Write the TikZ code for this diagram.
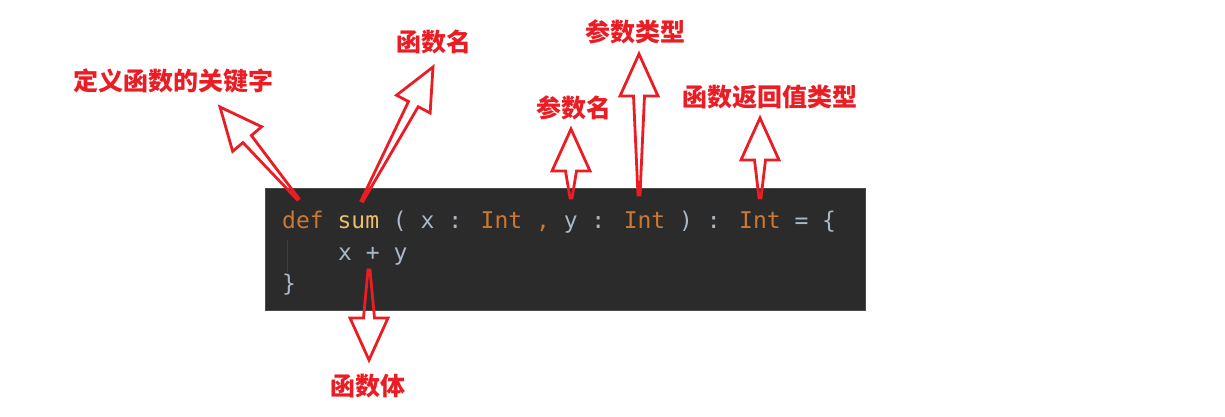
\documentclass[tikz,border=0pt]{standalone}
\usepackage{fontspec}
\usetikzlibrary{calc}
\newfontfamily\cjk{Noto Sans CJK SC}
\newfontfamily\codefont{DejaVu Sans Mono}
\definecolor{arrowred}{HTML}{EA1C24}
\definecolor{codebg}{HTML}{2B2B2B}
\definecolor{codeborder}{HTML}{4A4A4A}
\definecolor{kw}{HTML}{CC7832}
\definecolor{fn}{HTML}{E8BF6A}
\definecolor{plain}{HTML}{A9B7C6}
\definecolor{guide}{HTML}{3C3F41}
\tikzset{
  label/.style={font=\cjk\bfseries\fontsize{25pt}{28pt}\selectfont, text=arrowred, inner sep=0pt},
  codeline/.style={font=\codefont\fontsize{23pt}{28pt}\selectfont, text=plain, inner sep=0pt, anchor=base west},
  harrow/.style={draw=arrowred, line width=2.8pt, line join=miter, fill=none},
}
\newcommand\hollowarrow[2]{%
  \path ($(#2)!42pt!(#1)$) coordinate (hb);
  \draw[harrow] (#2) -- ($(hb)!19pt!90:(#2)$) -- ($(hb)!5.5pt!90:(#2)$) -- ($(#1)!1pt!90:(#2)$)
    -- ($(#1)!1pt!-90:(#2)$) -- ($(hb)!5.5pt!-90:(#2)$) -- ($(hb)!19pt!-90:(#2)$) -- cycle;
}
\begin{document}
\begin{tikzpicture}[x=1pt,y=-1pt]
\useasboundingbox (0,0) rectangle (1225,416);
% code box
\node[draw=codeborder, fill=codebg, line width=0.8pt, minimum width=600pt, minimum height=122pt, inner sep=0pt, anchor=north west] (box) at (265,188) {};
\draw[guide, line width=1pt] (287,240) -- (287,272);
\node[codeline] (line1) at (282,228) {{\color{kw}def} {\color{fn}sum} ( x : {\color{kw}Int} {\color{kw},} y : {\color{kw}Int} ) : {\color{kw}Int} = \{};
\node[codeline] (line2) at (338,260) {x + y};
\node[codeline] (line3) at (282,291) {\}};
% labels
\node[label] (lkw) at (173,81) {定义函数的关键字};
\node[label] (lfn) at (434,42) {函数名};
\node[label] (lpt) at (635,32) {参数类型};
\node[label] (lpn) at (574,108) {参数名};
\node[label] (lrt) at (770,97) {函数返回值类型};
\node[label] (lbd) at (368,386) {函数体};
% arrow ends
\coordinate (t1) at (298,199); \coordinate (p1) at (220,107);
\coordinate (t2) at (362,201); \coordinate (p2) at (433,67);
\coordinate (t3) at (571,198); \coordinate (p3) at (571,129);
\coordinate (t4) at (639,195); \coordinate (p4) at (639,54);
\coordinate (t5) at (760,198); \coordinate (p5) at (760,118);
\coordinate (t6) at (369,270); \coordinate (p6) at (369,360);
\hollowarrow{t1}{p1}
\hollowarrow{t2}{p2}
\hollowarrow{t3}{p3}
\hollowarrow{t4}{p4}
\hollowarrow{t5}{p5}
\hollowarrow{t6}{p6}
\end{tikzpicture}
\end{document}
